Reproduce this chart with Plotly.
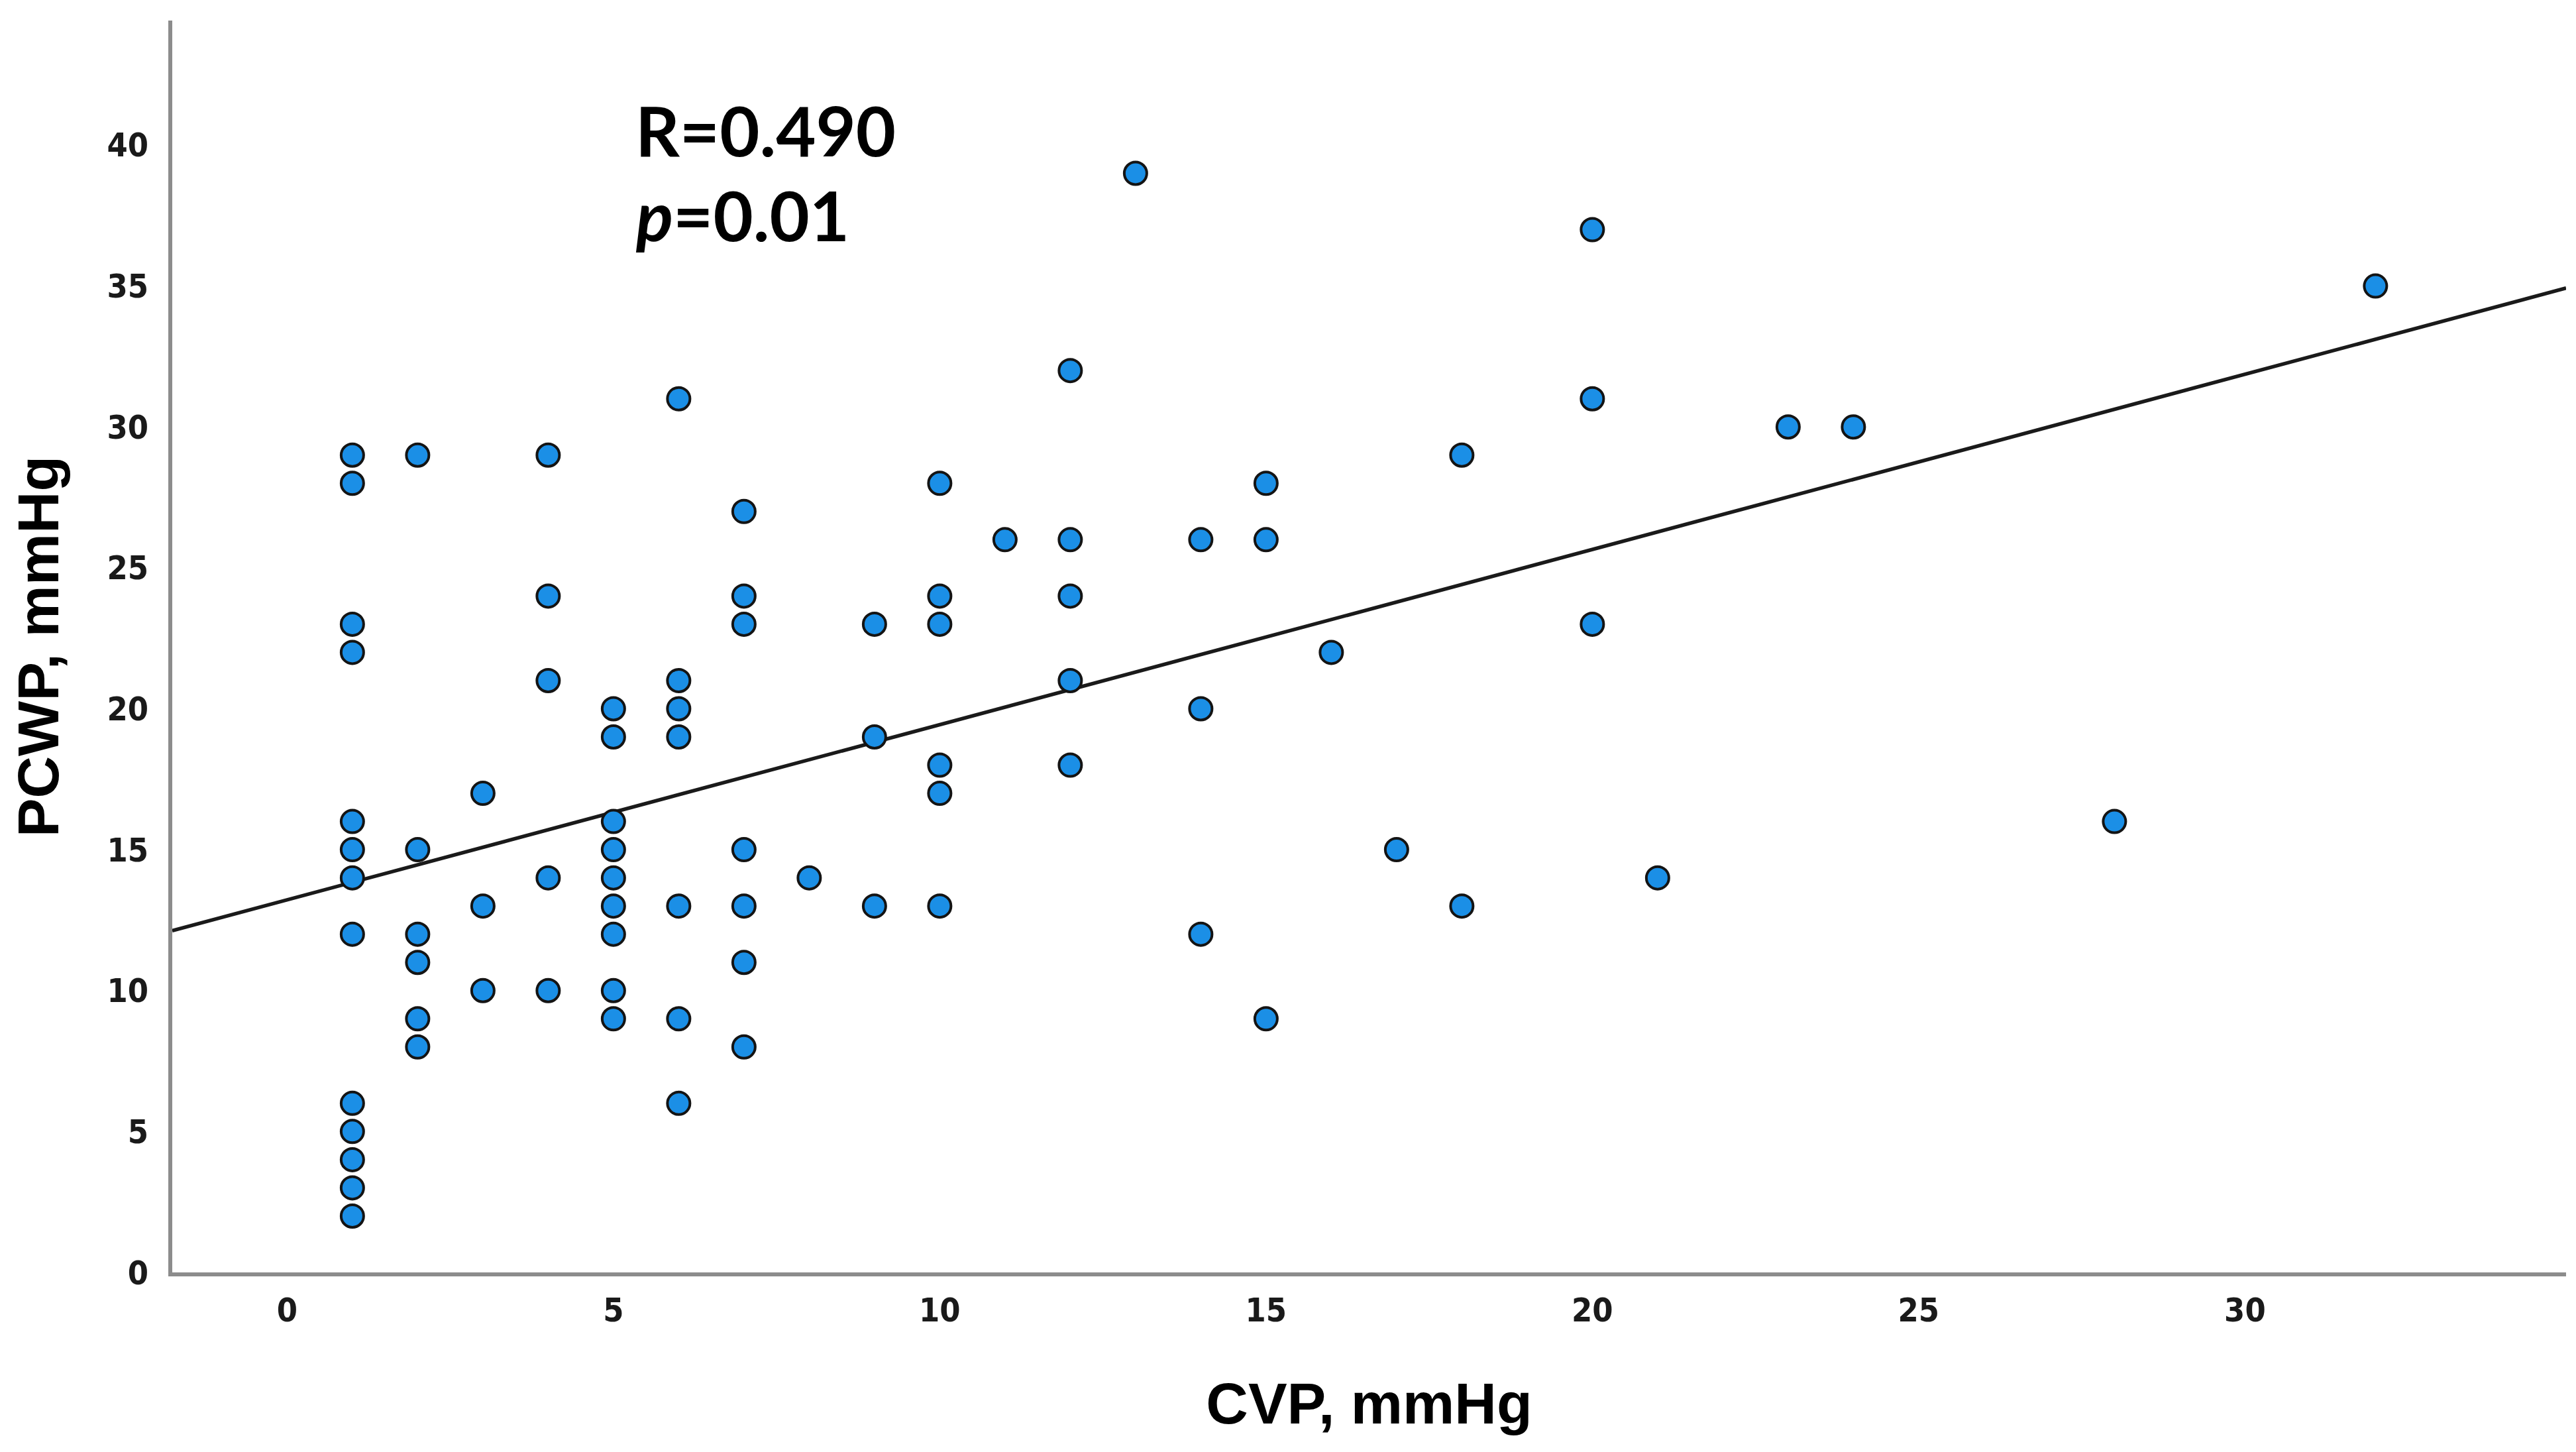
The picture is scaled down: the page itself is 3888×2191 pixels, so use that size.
import numpy as np
import plotly.graph_objects as go

# CVP (x) and PCWP (y) values
cvp = [1]*13 + [2]*6 + [3]*3 + [4]*5 + [5]*9 + [6]*7 + [7]*7 + [8] + [9]*3 + [10]*6 + \
      [11] + [12]*5 + [13] + [14]*3 + [15]*3 + [16] + [17] + [18]*2 + [20]*3 + [21] + [23] + [24] + [28] + [32]
pcwp = [29, 28, 23, 22, 16, 15, 14, 12, 6, 5, 4, 3, 2,
        29, 15, 12, 11, 9, 8,
        17, 13, 10,
        29, 24, 21, 14, 10,
        20, 19, 16, 15, 14, 13, 12, 10, 9,
        31, 21, 20, 19, 13, 9, 6,
        27, 24, 23, 15, 13, 11, 8,
        14,
        23, 19, 13,
        28, 24, 23, 18, 17, 13,
        26,
        32, 26, 24, 21, 18,
        39,
        26, 20, 12,
        28, 26, 9,
        22,
        15,
        29, 13,
        37, 31, 23,
        14,
        30,
        30,
        16,
        35]

# fit line as drawn in the reference (intercept, slope)
fit_intercept = 13.22
fit_slope = 0.6216

x_ticks = [0, 5, 10, 15, 20, 25, 30]
y_ticks = [0, 5, 10, 15, 20, 25, 30, 35, 40]
x_range = [-1.76, 34.92]
y_range = [0, 44.42]

stat_r = "R=0.490"
stat_p = "<i>p</i>=0.01"

fig = go.Figure()

line_x = np.array(x_range)
fig.add_trace(go.Scatter(
    x=line_x, y=fit_intercept + fit_slope * line_x,
    mode="lines", line=dict(color="#1a1a1a", width=5.5),
    hoverinfo="skip", showlegend=False, cliponaxis=True))

fig.add_trace(go.Scatter(
    x=cvp, y=pcwp, mode="markers",
    marker=dict(size=34, color="#1b8fe6", line=dict(color="#141414", width=4)),
    showlegend=False, cliponaxis=False))

tick_font = dict(family="Liberation Sans Narrow, DejaVu Sans Condensed, Arial Narrow, Liberation Sans, Arial",
                 size=50, color="#1a1a1a")
title_font = dict(family="Liberation Sans, Arial", size=88, color="#000000")

fig.update_layout(
    width=3888, height=2191,
    margin=dict(l=252, r=23, t=23, b=279),
    paper_bgcolor="white", plot_bgcolor="white",
    xaxis=dict(range=x_range, tickvals=x_ticks, ticktext=[f"<b>{v}</b>" for v in x_ticks],
               showgrid=False, zeroline=False, showline=True, linecolor="#8c8c8c", linewidth=6,
               ticks="", ticklabelstandoff=8, tickfont=tick_font,
               title=dict(text="<b>CVP, mmHg</b>", font=title_font, standoff=83)),
    yaxis=dict(range=y_range, tickvals=y_ticks, ticktext=[f"<b>{v}</b>" for v in y_ticks],
               showgrid=False, zeroline=False, showline=True, linecolor="#8c8c8c", linewidth=6,
               ticks="", ticklabelstandoff=20, tickfont=tick_font,
               title=dict(text="<b>PCWP, mmHg</b>", font=title_font, standoff=46)),
    annotations=[
        dict(text="<b>" + stat_r + "</b>", x=5.32, y=40.55, xref="x", yref="y",
             xanchor="left", yanchor="middle", showarrow=False,
             font=dict(family="Lato, Liberation Sans", size=104, color="#000000")),
        dict(text="<b>" + stat_p + "</b>", x=5.32, y=37.55, xref="x", yref="y",
             xanchor="left", yanchor="middle", showarrow=False,
             font=dict(family="Lato, Liberation Sans", size=104, color="#000000")),
    ],
)

fig.write_html("out.html")
